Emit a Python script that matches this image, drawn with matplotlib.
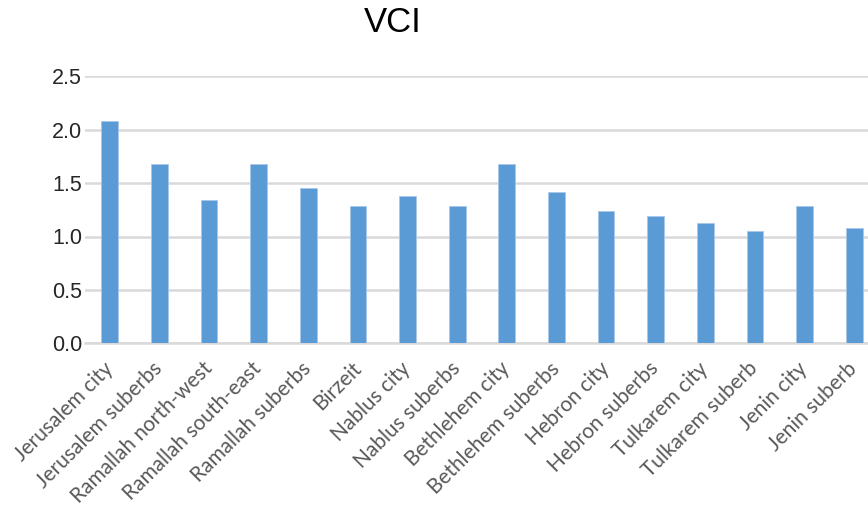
import matplotlib
matplotlib.use('Agg')
import matplotlib.pyplot as plt
import numpy as np

regions = ['Jerusalem city', 'Jerusalem suberbs', 'Ramallah north-west',
           'Ramallah south-east', 'Ramallah suberbs', 'Birzeit', 'Nablus city',
           'Nablus suberbs', 'Bethlehem city', 'Bethlehem suberbs', 'Hebron city',
           'Hebron suberbs', 'Tulkarem city', 'Tulkarem suberb', 'Jenin city',
           'Jenin suberb']
vci = [2.08, 1.68, 1.34, 1.68, 1.45, 1.29, 1.38, 1.29,
       1.68, 1.42, 1.24, 1.19, 1.13, 1.05, 1.29, 1.08]
yticks = [0.0, 0.5, 1.0, 1.5, 2.0, 2.5]

W, H = 868, 508
fig = plt.figure(figsize=(W / 100, H / 100), dpi=100)
# plot area runs past the right edge, as in the cropped original
ax = fig.add_axes([85 / W, (H - 343.3) / H, 794 / W, 267 / H])

x = np.arange(len(regions))
ax.bar(x, vci, width=0.34, color='#5b9bd5', edgecolor='#a9c8ea', linewidth=0.6, zorder=3)

ax.set_xlim(-0.5, len(regions) - 0.5)
ax.set_ylim(0, 2.5)
ax.set_yticks(yticks, labels=[f'{v:.1f}' for v in yticks])
ax.grid(axis='y', color='#d9d9d9', linewidth=1.8, zorder=0)
for side in ('top', 'right', 'left'):
    ax.spines[side].set_visible(False)
ax.spines['bottom'].set_color('#d9d9d9')
ax.spines['bottom'].set_linewidth(1.8)
ax.tick_params(axis='both', length=0)
ax.tick_params(axis='y', pad=2, labelsize=15.5, labelcolor='#262626')
for lab in ax.get_yticklabels():
    lab.set_family('Liberation Sans')

ax.set_xticks(x)
ax.set_xticklabels(regions, rotation=45, ha='right', va='center',
                   rotation_mode='anchor', fontsize=15, color='#595959',
                   family='Lato')
ax.tick_params(axis='x', pad=16)

fig.text(393 / W, 1 - 22 / H, 'VCI', ha='center', va='center',
         fontsize=25, family='Liberation Sans', color='black')

fig.savefig('out.png', dpi=100)
